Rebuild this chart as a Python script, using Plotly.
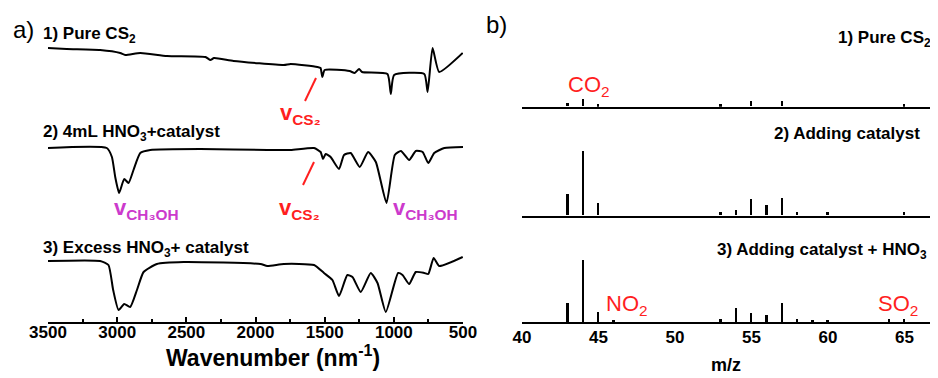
import plotly.graph_objects as go

# ---------------- data (a): FTIR spectra, offset transmittance (a.u.) ----------------
wn_pure = [3500, 3365, 3123, 2978, 2942, 2833, 2640, 2362, 2326, 2300, 2158, 1795, 1746,
           1553, 1530, 1517, 1500, 1320, 1283, 1251, 1230, 1046, 1022, 998, 780, 756,
           720, 672, 502]
t_pure = [2.74, 2.73, 2.72, 2.69, 2.67, 2.69, 2.66, 2.65, 2.62, 2.64, 2.61, 2.57, 2.58,
          2.55, 2.54, 2.45, 2.52, 2.51, 2.49, 2.53, 2.50, 2.48, 2.28, 2.47, 2.48, 2.30,
          2.74, 2.50, 2.69]

wn_cat = [3500, 3075, 3038, 3014, 2986, 2949, 2918, 2882, 2833, 2761, 2399, 1915, 1746,
          1577, 1529, 1512, 1493, 1457, 1396, 1360, 1312, 1246, 1186, 1130, 1053, 993,
          949, 889, 841, 792, 751, 708, 635, 500]
t_cat = [1.74, 1.74, 1.65, 1.45, 1.29, 1.43, 1.39, 1.52, 1.69, 1.72, 1.73, 1.72, 1.72,
         1.74, 1.70, 1.63, 1.68, 1.65, 1.53, 1.67, 1.69, 1.55, 1.70, 1.60, 1.19, 1.67,
         1.71, 1.62, 1.71, 1.70, 1.59, 1.69, 1.74, 1.75]

wn_exc = [3500, 3123, 3063, 3029, 2990, 2949, 2906, 2857, 2809, 2713, 2520, 1964, 1915,
          1795, 1577, 1505, 1444, 1396, 1336, 1299, 1239, 1167, 1118, 1058, 969, 937,
          889, 841, 780, 751, 712, 672, 502]
t_exc = [0.61, 0.61, 0.57, 0.32, 0.12, 0.18, 0.15, 0.32, 0.50, 0.58, 0.60, 0.58, 0.56,
         0.58, 0.57, 0.49, 0.42, 0.26, 0.47, 0.45, 0.30, 0.49, 0.39, 0.10, 0.49, 0.47,
         0.38, 0.50, 0.49, 0.48, 0.64, 0.56, 0.65]

wn_ticks = [3500, 3000, 2500, 2000, 1500, 1000, 500]

# ---------------- data (b): mass spectra, relative intensity ----------------
mz_pure = [43, 44, 45, 53, 55, 57, 65, 67]
i_pure = [6, 12, 3, 3, 9, 9, 3, 11]
mz_cat = [43, 44, 45, 53, 54, 55, 56, 57, 58, 60, 65, 67]
i_cat = [34, 100, 19, 5, 9, 25, 17, 27, 5, 5, 5, 6]
mz_hno3 = [43, 44, 45, 46, 53, 54, 55, 56, 57, 58, 59, 60, 64, 65, 67]
i_hno3 = [30, 97, 17, 3, 5, 22, 15, 11, 30, 5, 3, 3, 6, 6, 10]
mz_ticks = [40, 45, 50, 55, 60, 65]

W, H = 938, 378
OFF = 8  # page body margin that shifts the figure inside the window
FONT = "Liberation Sans, Arial, sans-serif"
RED = "#ff1f1f"
MAG = "#cc3acc"


def px(x):
    return (x - OFF) / W


def py(y):
    return 1 - (y - OFF) / H


fig = go.Figure()

for wn, t in [(wn_pure, t_pure), (wn_cat, t_cat), (wn_exc, t_exc)]:
    fig.add_trace(go.Scatter(x=wn, y=t, mode="lines", xaxis="x", yaxis="y",
                             line=dict(color="black", width=2, shape="spline", smoothing=0.5),
                             showlegend=False, hoverinfo="skip"))

for k, (mz, inten) in enumerate([(mz_pure, i_pure), (mz_cat, i_cat), (mz_hno3, i_hno3)]):
    fig.add_trace(go.Bar(x=mz, y=inten, width=0.13, marker=dict(color="black", line=dict(width=0)),
                         xaxis=f"x{k + 2}", yaxis=f"y{k + 2}", showlegend=False, hoverinfo="skip"))

layout = dict(
    template="none",
    width=W, height=H, margin=dict(l=0, r=0, t=0, b=0, pad=0, autoexpand=False),
    paper_bgcolor="white", plot_bgcolor="white",
    font=dict(family=FONT, color="black"),
    bargap=0,
    xaxis=dict(domain=[px(48), px(463)], range=[3500, 500], anchor="y", automargin=False,
               showline=True, linecolor="black", linewidth=2,
               ticks="inside", ticklen=5, tickwidth=2, tickcolor="black",
               tickvals=wn_ticks, ticktext=[str(v) for v in wn_ticks],
               ticklabelstandoff=-6,
               minor=dict(ticks="inside", ticklen=3, tickwidth=1.5, dtick=250,
                          tickcolor="black", showgrid=False),
               tickfont=dict(size=17, family=FONT, weight="bold"),
               showgrid=False, zeroline=False),
    yaxis=dict(domain=[py(322), py(30)], range=[0, 2.92], visible=False, anchor="x",
               automargin=False, showgrid=False, zeroline=False),
)
doms = [(106.7, 36.3), (215.7, 145.3), (322.3, 251.9)]
for k, (b, t) in enumerate(doms):
    n = k + 2
    xa = dict(domain=[px(522), px(936.5)], range=[40, 67.1], anchor=f"y{n}", automargin=False,
              showline=True, linecolor="black", linewidth=2, ticks="",
              showgrid=False, zeroline=False, showticklabels=False)
    if n == 4:
        xa.update(showticklabels=True, tickvals=mz_ticks, ticklabelstandoff=-2,
                  tickfont=dict(size=17, family=FONT, weight="bold"))
    layout[f"xaxis{n}"] = xa
    layout[f"yaxis{n}"] = dict(domain=[py(b), py(t)], range=[0, 110], visible=False,
                               anchor=f"x{n}", automargin=False, showgrid=False,
                               zeroline=False)
fig.update_layout(**layout)


def ann(text, x, y, size, color="black", xanchor="center", yanchor="middle", bold=False):
    fig.add_annotation(text=text, x=px(x), y=py(y), xref="paper", yref="paper",
                       showarrow=False, xanchor=xanchor, yanchor=yanchor,
                       font=dict(size=size, color=color, family=FONT,
                                 weight="bold" if bold else "normal"))


# panel a labels
ann("a)", 11, 30, 24, xanchor="left")
ann("1) Pure CS<sub>2</sub>", 41, 35, 17, xanchor="left", bold=True)
ann("2) 4mL HNO<sub>3</sub>+catalyst", 41, 133, 17, xanchor="left", bold=True)
ann("3) Excess HNO<sub>3</sub>+ catalyst", 41, 249, 17, xanchor="left", bold=True)
ann("Wavenumber (nm<sup>-1</sup>)", 273, 356, 23, bold=True)
ann("v<sub>CS₂</sub>", 300, 114, 22, color=RED, bold=True)
ann("v<sub>CS₂</sub>", 299, 209, 22, color=RED, bold=True)
ann("v<sub>CH₃OH</sub>", 146, 209, 22, color=MAG, bold=True)
ann("v<sub>CH₃OH</sub>", 425, 209, 22, color=MAG, bold=True)

# panel b labels
ann("b)", 484, 24, 24, xanchor="left")
ann("1) Pure CS<sub>2</sub>", 933, 39, 17, xanchor="right", bold=True)
ann("2) Adding catalyst", 922, 134, 17, xanchor="right", bold=True)
ann("3) Adding catalyst + HNO<sub>3</sub>", 715, 251, 17, xanchor="left", bold=True)
ann("CO<sub>2</sub>", 589, 86, 22, color=RED)
ann("NO<sub>2</sub>", 627, 305, 22, color=RED)
ann("SO<sub>2</sub>", 898, 305, 22, color=RED)
ann("m/z", 726, 365, 18, bold=True)

# red pointer lines
for (x0, y0, x1, y1) in [(316, 78, 305, 101), (314, 162, 303, 185)]:
    fig.add_shape(type="line", xref="paper", yref="paper",
                  x0=px(x0), y0=py(y0), x1=px(x1), y1=py(y1),
                  line=dict(color=RED, width=2))

fig.write_html("out.html")
